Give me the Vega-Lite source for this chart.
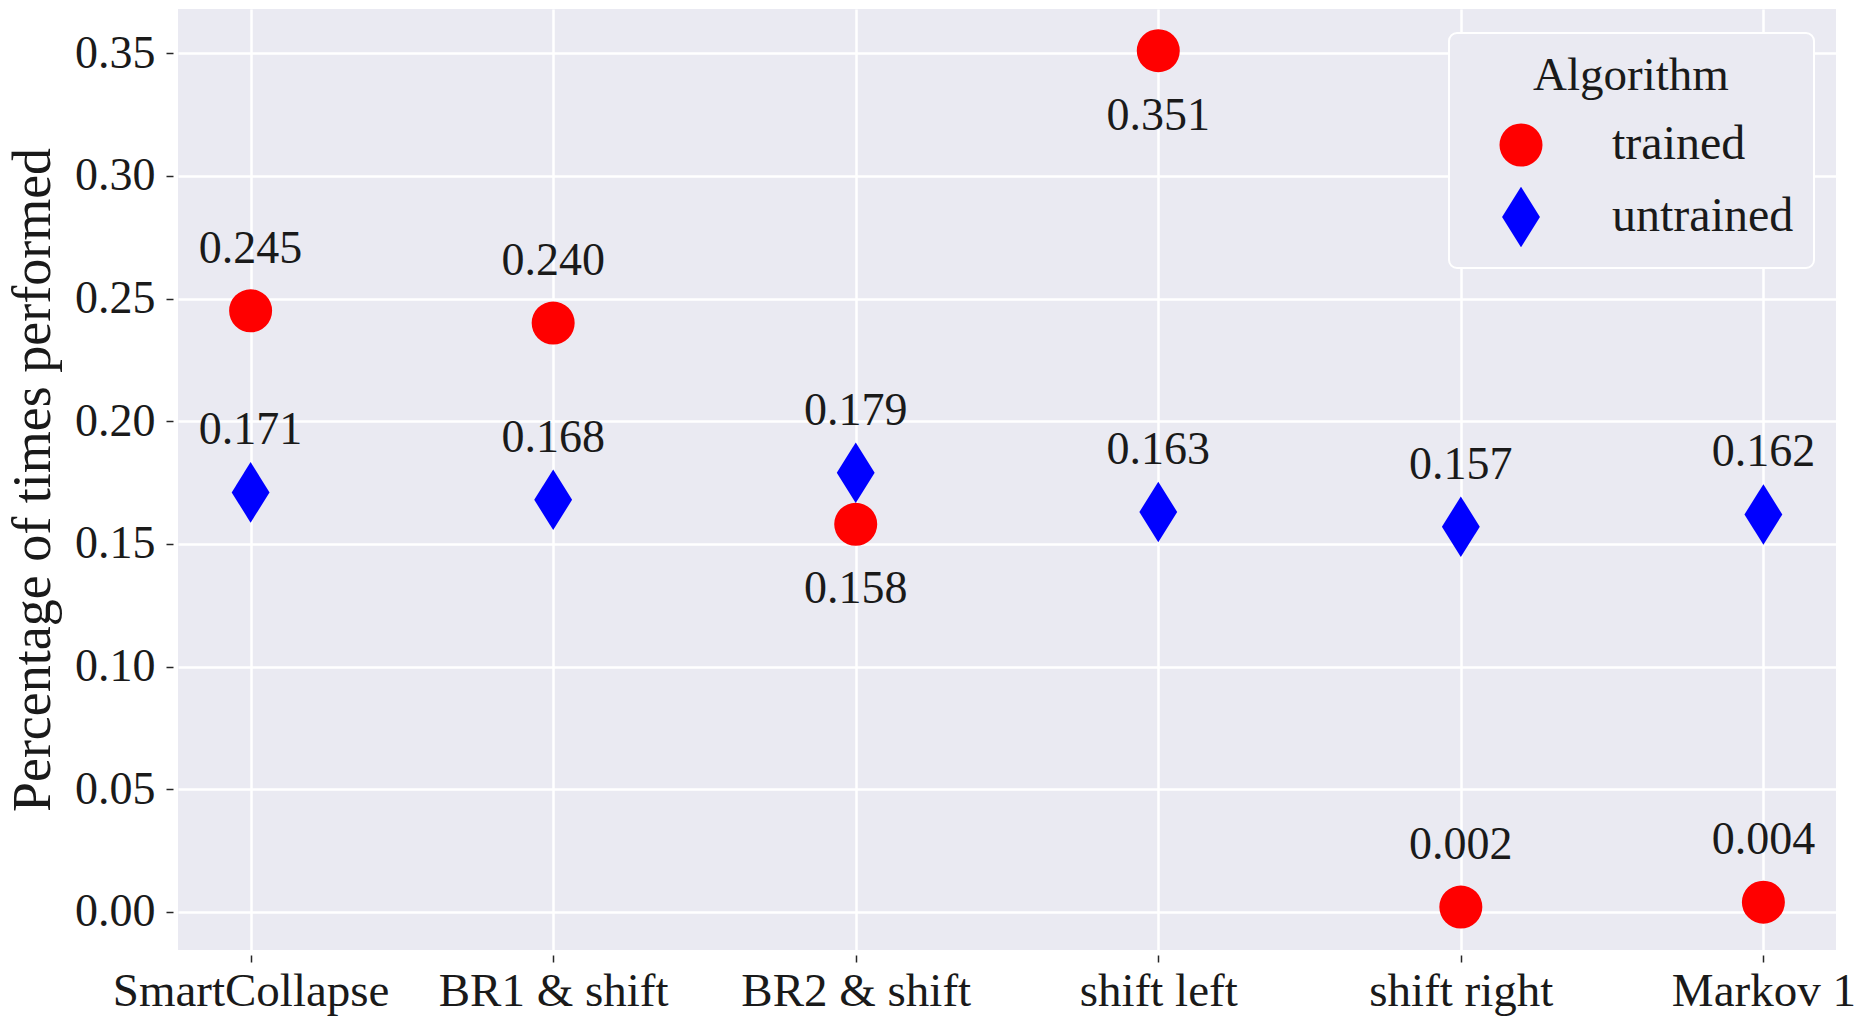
{
  "$schema": "https://vega.github.io/schema/vega-lite/v6.json",
  "width": 1658,
  "height": 941,
  "autosize": {"type": "none"},
  "padding": {"left": 178, "top": 9, "right": 24, "bottom": 66},
  "background": "#FFFFFF",
  "data": {
    "values": [
      {"category": "SmartCollapse", "algorithm": "trained", "value": 0.245},
      {"category": "SmartCollapse", "algorithm": "untrained", "value": 0.171},
      {"category": "BR1 & shift", "algorithm": "trained", "value": 0.240},
      {"category": "BR1 & shift", "algorithm": "untrained", "value": 0.168},
      {"category": "BR2 & shift", "algorithm": "trained", "value": 0.158},
      {"category": "BR2 & shift", "algorithm": "untrained", "value": 0.179},
      {"category": "shift left", "algorithm": "trained", "value": 0.351},
      {"category": "shift left", "algorithm": "untrained", "value": 0.163},
      {"category": "shift right", "algorithm": "trained", "value": 0.002},
      {"category": "shift right", "algorithm": "untrained", "value": 0.157},
      {"category": "Markov 1", "algorithm": "trained", "value": 0.004},
      {"category": "Markov 1", "algorithm": "untrained", "value": 0.162}
    ]
  },
  "encoding": {
    "x": {
      "field": "category",
      "type": "nominal",
      "sort": null,
      "scale": {"type": "point", "padding": 0.24},
      "axis": {
        "title": null,
        "labelAngle": 0,
        "offset": 5,
        "tickSize": 7,
        "labelPadding": 6,
        "labelLimit": 0,
        "labelFontSize": 47,
        "grid": true
      }
    },
    "y": {
      "field": "value",
      "type": "quantitative",
      "scale": {"domain": [-0.0155, 0.368], "nice": false, "zero": false},
      "axis": {
        "title": "Percentage of times performed",
        "values": [0, 0.05, 0.1, 0.15, 0.2, 0.25, 0.3, 0.35],
        "format": ".2f",
        "offset": 5,
        "tickSize": 7,
        "labelPadding": 11,
        "titlePadding": 14,
        "titleFontSize": 54,
        "grid": true
      }
    }
  },
  "layer": [
    {
      "mark": {"type": "point", "filled": true, "opacity": 1, "size": 1850, "strokeWidth": 0},
      "encoding": {
        "color": {
          "field": "algorithm",
          "type": "nominal",
          "scale": {"domain": ["trained", "untrained"], "range": ["#FF0000", "#0000FF"]},
          "legend": {"title": "Algorithm"}
        },
        "shape": {
          "field": "algorithm",
          "type": "nominal",
          "scale": {"domain": ["trained", "untrained"], "range": ["circle", "M0,-1.41L0.88,0L0,1.41L-0.88,0Z"]},
          "legend": {"title": "Algorithm"}
        }
      }
    },
    {
      "transform": [
        {"filter": "!(datum.algorithm == 'trained' && (datum.category == 'shift left' || datum.category == 'BR2 & shift'))"}
      ],
      "mark": {"type": "text", "dy": -62, "baseline": "middle", "align": "center", "font": "Liberation Serif", "fontSize": 46, "color": "#1a1a1a"},
      "encoding": {
        "text": {"field": "value", "type": "quantitative", "format": ".3f"}
      }
    },
    {
      "transform": [
        {"filter": "datum.algorithm == 'trained' && (datum.category == 'shift left' || datum.category == 'BR2 & shift')"}
      ],
      "mark": {"type": "text", "dy": 65, "baseline": "middle", "align": "center", "font": "Liberation Serif", "fontSize": 46, "color": "#1a1a1a"},
      "encoding": {
        "text": {"field": "value", "type": "quantitative", "format": ".3f"}
      }
    }
  ],
  "config": {
    "font": "Liberation Serif",
    "view": {"fill": "#EAEAF2", "stroke": null},
    "axis": {
      "domain": false,
      "gridColor": "#FFFFFF",
      "gridWidth": 2.5,
      "gridOpacity": 1,
      "tickColor": "#262626",
      "tickWidth": 1.5,
      "labelFont": "Liberation Serif",
      "labelFontSize": 46,
      "labelColor": "#1a1a1a",
      "titleFont": "Liberation Serif",
      "titleFontWeight": "normal",
      "titleColor": "#1a1a1a"
    },
    "legend": {
      "orient": "none",
      "legendX": 1271,
      "legendY": 24,
      "padding": 20,
      "fillColor": "#EAEAF2",
      "strokeColor": "#FFFFFF",
      "strokeWidth": 2,
      "cornerRadius": 8,
      "titleFont": "Liberation Serif",
      "titleFontSize": 47,
      "titleFontWeight": "normal",
      "titleColor": "#1a1a1a",
      "titleAnchor": "middle",
      "titleLimit": 0,
      "titlePadding": 21,
      "labelFont": "Liberation Serif",
      "labelFontSize": 48,
      "labelColor": "#1a1a1a",
      "labelOffset": 67,
      "labelLimit": 0,
      "symbolSize": 1850,
      "symbolOffset": 28,
      "symbolOpacity": 1,
      "symbolStrokeWidth": 0,
      "rowPadding": 17
    }
  }
}
